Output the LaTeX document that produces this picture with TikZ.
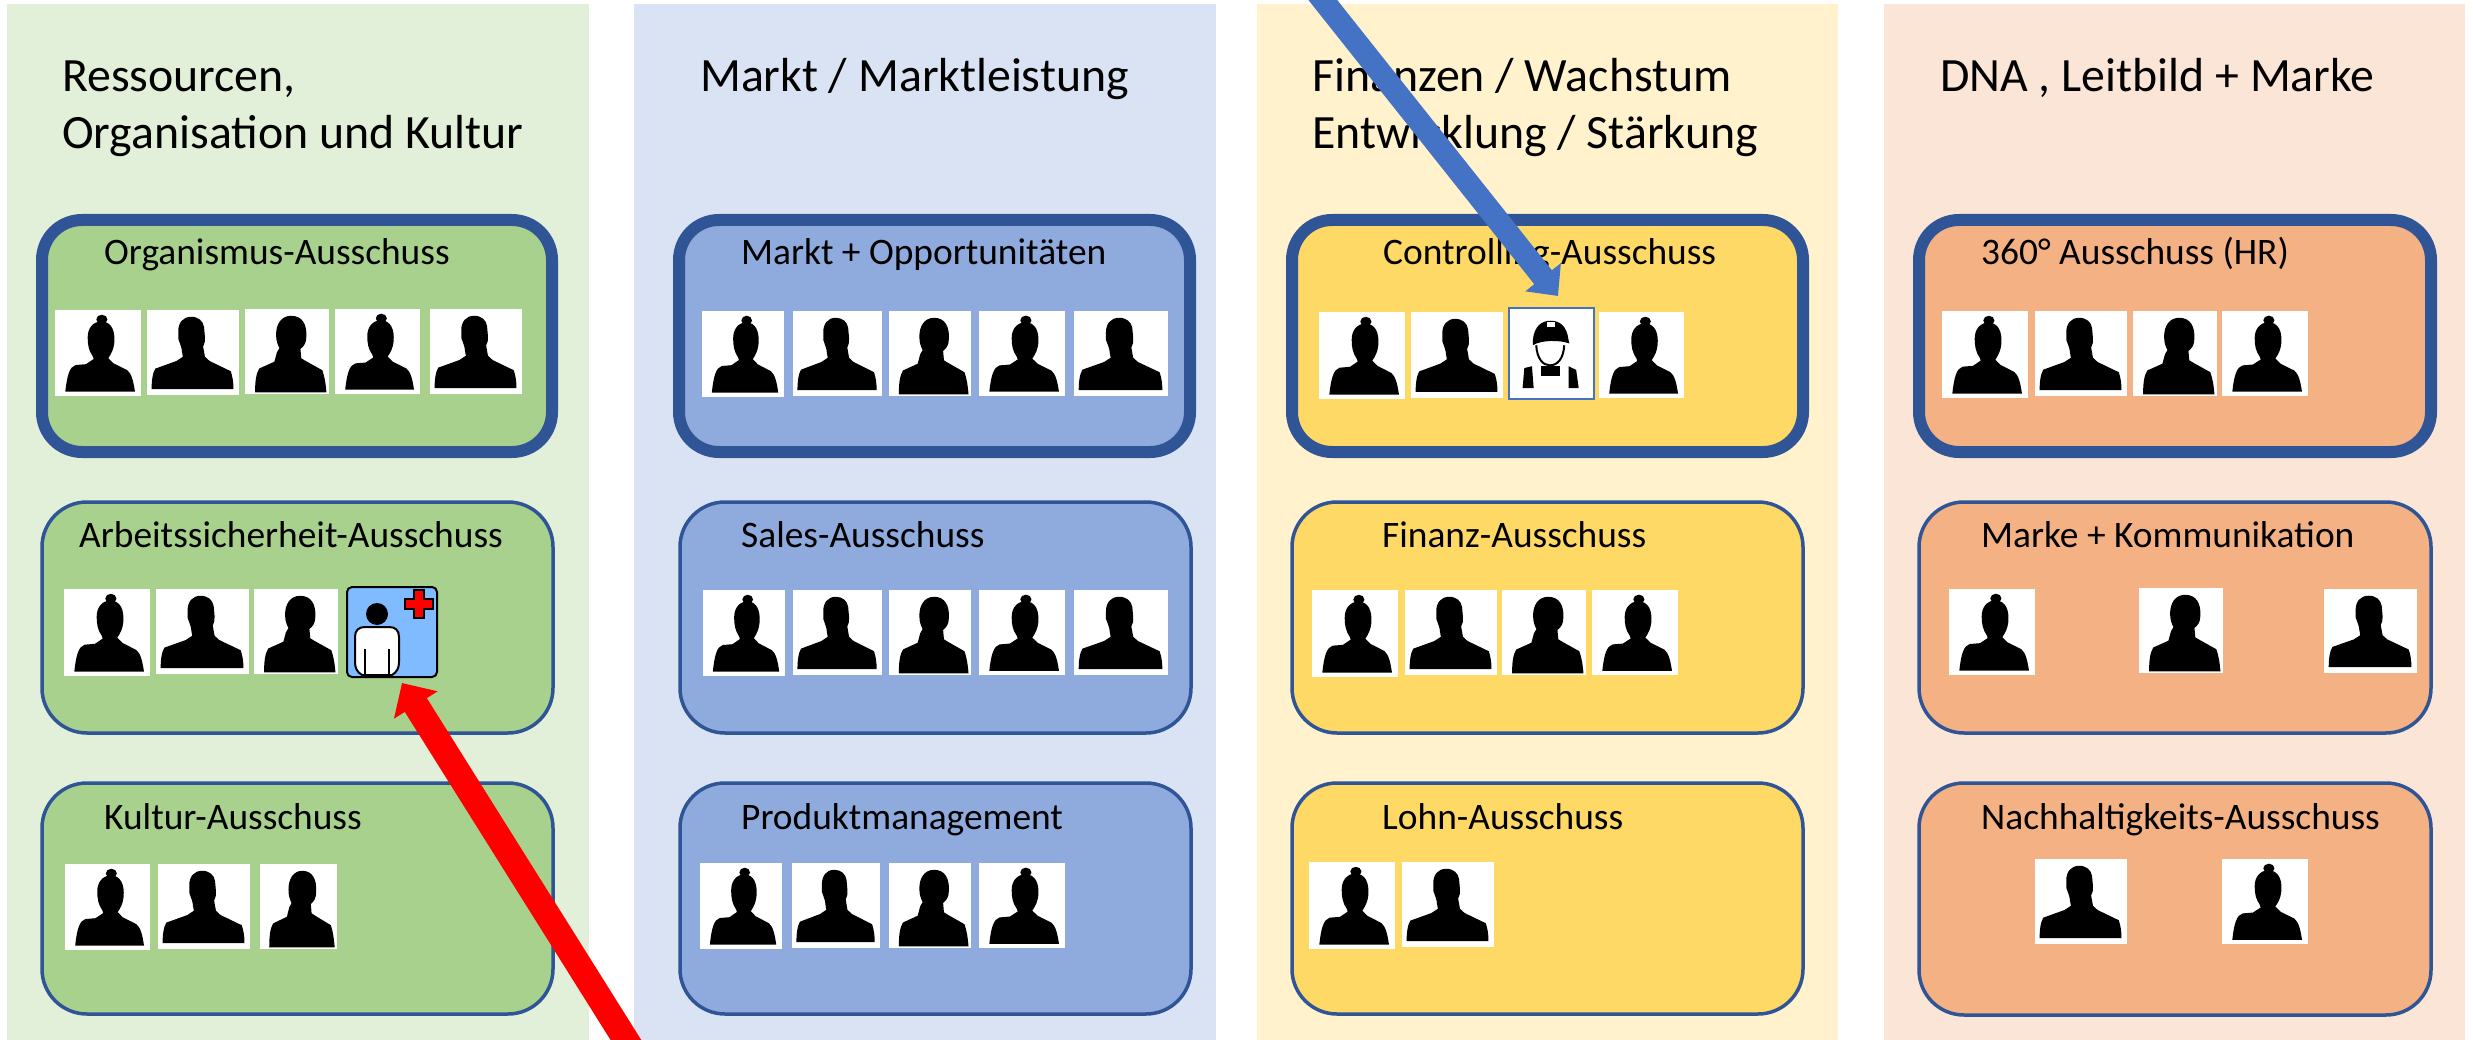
\documentclass[tikz,border=0pt]{standalone}
\usepackage{fontspec}
\setmainfont{Carlito}
\usetikzlibrary{arrows.meta}
\definecolor{pgreen}{HTML}{E2F0D9}\definecolor{pblue}{HTML}{DAE3F3}\definecolor{pyellow}{HTML}{FFF2CC}\definecolor{porange}{HTML}{FBE5D6}
\definecolor{bgreen}{HTML}{A9D18E}\definecolor{bblue}{HTML}{8FAADC}\definecolor{byellow}{HTML}{FFD966}\definecolor{borange}{HTML}{F4B183}
\definecolor{edge}{HTML}{2F5597}\definecolor{arrowblue}{HTML}{4472C4}\definecolor{iconblue}{HTML}{80BBFF}
\tikzset{
 x=1pt,y=-1pt,
 panel/.style={inner sep=0,outer sep=0,anchor=north west},
 box/.style={panel,draw=edge,line width=3.5pt,rounded corners=45pt},
 thickbox/.style={box,line width=12pt,rounded corners=40pt},
 tilebox/.style={panel,fill=white},
 title/.style={anchor=base west,inner sep=0,font=\fontsize{47.8}{56}\selectfont},
 lab/.style={anchor=base west,inner sep=0,font=\fontsize{37.4}{44}\selectfont},
 bluearrow/.style={draw=arrowblue,line width=22.5pt,-{Triangle[length=24pt,width=44pt]}},
 redarrow/.style={draw=red,line width=26pt,-{Triangle[length=26pt,width=50pt]}},
}
% #1 name #2 style #3 x1 #4 y1 #5 x2 #6 y2
\newcommand{\rectnode}[6]{\pgfmathsetmacro{\wA}{#5-#3}\pgfmathsetmacro{\hA}{#6-#4}%
 \node[#2,minimum width=\wA pt,minimum height=\hA pt] (#1) at (#3,#4) {};}
\newcommand{\womanpath}{%
 \fill[black] (54.5,11) ellipse (6.5 and 5.5);
 \fill[black] (54,13) .. controls (43,14) and (38,22) .. (38,32) .. controls (38,40) and (39,47) .. (44,54) -- (45,57)
  -- (36,63) -- (24,64) .. controls (17,66) and (14,76) .. (12,95) -- (93,95)
  .. controls (91,82) and (89,74) .. (84,70) -- (68,62) -- (62,56) .. controls (66,50) and (68,46) .. (69,38)
  .. controls (70,24) and (66,14) .. (54,13) -- cycle;}
\newcommand{\manpath}{%
 \fill[black] (48,8) .. controls (39,8) and (34,15) .. (34,25) -- (34,34) .. controls (36,40) and (38,45) .. (38,49) -- (39,55)
  -- (32,60) -- (9,69) .. controls (6,74) and (5,84) .. (5,93) -- (94,93)
  .. controls (94,85) and (93,78) .. (91,72) -- (68,60) -- (63,55) -- (61,43) .. controls (62,40) and (64,36) .. (63,32)
  -- (62,20) .. controls (61,13) and (56,8) .. (48,8) -- cycle;}
\newcommand{\mantwopath}{%
 \fill[black] (55,8) .. controls (43,8) and (37,18) .. (37,30) .. controls (37,38) and (39,42) .. (41,46) -- (38,51) -- (35,62)
  -- (17,70) .. controls (13,76) and (12,86) .. (12,98) -- (97,98)
  .. controls (96,88) and (95,80) .. (92,72) -- (72,61) -- (67,58) -- (66,47) .. controls (70,44) and (73,40) .. (73,33)
  .. controls (74,18) and (68,8) .. (55,8) -- cycle;}
\newcommand{\workerpath}{%
 \draw[black,line width=2pt] (32,41) .. controls (33,56) and (40,63) .. (48,63) .. controls (57,63) and (64,56) .. (65,41);
 \fill[black] (28,35) .. controls (30,20) and (38,14) .. (49,14) .. controls (60,14) and (68,20) .. (70,35) -- (71,39) .. controls (60,35) and (38,35) .. (28,41) -- cycle;
 \fill[white] (45,15) rectangle (54,21);
 \fill[black] (18,66) -- (27,64) -- (29,88) -- (16,88) -- cycle;
 \fill[black] (70,64) -- (79,68) -- (82,88) -- (70,88) -- cycle;
 \fill[black] (38,64) -- (60,64) -- (60,75) -- (38,75) -- cycle;}
% #1 name #2 silhouette macro #3 x1 #4 y1 #5 x2 #6 y2
\newcommand{\tile}[6]{\rectnode{#1}{tilebox}{#3}{#4}{#5}{#6}%
 \pgfmathsetmacro{\wB}{(#5-#3)/100}\pgfmathsetmacro{\hB}{(#6-#4)/100}%
 \begin{scope}[shift={(#3,#4)},x=\wB pt,y=-\hB pt]#2\end{scope}}
\begin{document}
\begin{tikzpicture}
\useasboundingbox (0,0) rectangle (2473,1040);
\clip (0,0) rectangle (2473,1040);
\fill[white] (0,0) rectangle (2473,1040);
% panels
\rectnode{p1}{panel,fill=pgreen}{7}{4}{589}{1040}
\rectnode{p2}{panel,fill=pblue}{634}{4}{1216}{1040}
\rectnode{p3}{panel,fill=pyellow}{1257}{4}{1838}{1040}
\rectnode{p4}{panel,fill=porange}{1884}{4}{2465}{1040}
% titles
\node[title] (t1a) at (62,92) {Ressourcen,};
\node[title] (t1b) at (62,149) {Organisation und Kultur};
\node[title] (t2a) at (700,92) {Markt / Marktleistung};
\node[title] (t3a) at (1312,92) {Finanzen / Wachstum};
\node[title] (t3b) at (1312,149) {Entwicklung / Stärkung};
\node[title] (t4a) at (1940,92) {DNA , Leitbild + Marke};
% boxes
\rectnode{b11}{thickbox,fill=bgreen}{42}{220}{552}{452}
\rectnode{b12}{box,fill=bgreen}{42}{502}{553}{733}
\rectnode{b13}{box,fill=bgreen}{42}{783}{553}{1014}
\rectnode{b21}{thickbox,fill=bblue}{679}{220}{1190}{452}
\rectnode{b22}{box,fill=bblue}{680}{502}{1191}{733}
\rectnode{b23}{box,fill=bblue}{680}{783}{1191}{1014}
\rectnode{b31}{thickbox,fill=byellow}{1292}{220}{1803}{452}
\rectnode{b32}{box,fill=byellow}{1292}{502}{1803}{733}
\rectnode{b33}{box,fill=byellow}{1292}{783}{1803}{1014}
\rectnode{b41}{thickbox,fill=borange}{1919}{220}{2431}{452}
\rectnode{b42}{box,fill=borange}{1919}{502}{2431}{733}
\rectnode{b43}{box,fill=borange}{1919}{783}{2431}{1015}
% labels
\node[lab] (l11) at (104,265) {Organismus-Ausschuss};
\node[lab] (l12) at (79,547) {Arbeitssicherheit-Ausschuss};
\node[lab] (l13) at (104,829) {Kultur-Ausschuss};
\node[lab] (l21) at (741,265) {Markt + Opportunitäten};
\node[lab] (l22) at (741,547) {Sales-Ausschuss};
\node[lab] (l23) at (741,829) {Produktmanagement};
\node[lab] (l31) at (1383,265) {Controlling-Ausschuss};
\node[lab] (l32) at (1382,547) {Finanz-Ausschuss};
\node[lab] (l33) at (1382,829) {Lohn-Ausschuss};
\node[lab] (l41) at (1981,265) {360° Ausschuss (HR)};
\node[lab] (l42) at (1981,547) {Marke + Kommunikation};
\node[lab] (l43) at (1981,829) {Nachhaltigkeits-Ausschuss};
% column 1
\tile{a1}{\womanpath}{55}{310}{141}{396}
\tile{a2}{\manpath}{147}{310}{239}{395}
\tile{a3}{\mantwopath}{245}{309}{329}{394}
\tile{a4}{\womanpath}{335}{309}{420}{394}
\tile{a5}{\manpath}{430}{309}{522}{394}
\tile{c1}{\womanpath}{64}{589}{150}{676}
\tile{c2}{\manpath}{156}{589}{249}{674}
\tile{c3}{\mantwopath}{254}{589}{338}{674}
\tile{d1}{\womanpath}{65}{864}{150}{950}
\tile{d2}{\manpath}{158}{864}{250}{949}
\tile{d3}{\mantwopath}{260}{864}{337}{949}
% first-aid icon
\rectnode{icon}{panel,fill=iconblue,draw=black,line width=2pt,rounded corners=5pt}{347}{587}{437}{677}
\node[circle,fill=black,inner sep=0,minimum size=22pt] (iconhead) at (377,614) {};
\draw[black,fill=white,line width=2pt] (362,675) .. controls (357,672) and (355,668) .. (355,662) -- (355,637) .. controls (355,630) and (359,627) .. (365,627) -- (389,627) .. controls (395,627) and (399,630) .. (399,637) -- (399,662) .. controls (399,668) and (397,672) .. (392,675) -- cycle;
\draw[black,line width=2pt] (365,649) -- (365,675) (389,649) -- (389,675);
\draw[black,fill=red,line width=1.5pt] (414,590) -- (424,590) -- (424,599) -- (433,599) -- (433,609) -- (424,609) -- (424,618) -- (414,618) -- (414,609) -- (405,609) -- (405,599) -- (414,599) -- cycle;
% column 2
\tile{e1}{\womanpath}{702}{311}{784}{397}
\tile{e2}{\manpath}{793}{311}{882}{396}
\tile{e3}{\mantwopath}{889}{311}{971}{396}
\tile{e4}{\womanpath}{979}{311}{1065}{396}
\tile{e5}{\manpath}{1074}{311}{1168}{396}
\tile{f1}{\womanpath}{703}{590}{785}{676}
\tile{f2}{\manpath}{793}{590}{882}{675}
\tile{f3}{\mantwopath}{889}{590}{971}{675}
\tile{f4}{\womanpath}{979}{590}{1065}{675}
\tile{f5}{\manpath}{1074}{590}{1168}{675}
\tile{g1}{\womanpath}{700}{863}{782}{949}
\tile{g2}{\manpath}{792}{863}{880}{948}
\tile{g3}{\mantwopath}{889}{863}{971}{948}
\tile{g4}{\womanpath}{979}{863}{1065}{948}
% column 3
\tile{h1}{\womanpath}{1319}{312}{1405}{399}
\tile{h2}{\manpath}{1411}{312}{1503}{398}
\rectnode{worker}{panel,fill=white,draw=arrowblue,line width=2.5pt}{1509}{308}{1594}{399}
\begin{scope}[shift={(1509,308)},x=0.85pt,y=-0.91pt]\workerpath\end{scope}
\tile{h4}{\womanpath}{1599}{312}{1684}{398}
\tile{i1}{\womanpath}{1312}{590}{1398}{677}
\tile{i2}{\manpath}{1405}{590}{1497}{675}
\tile{i3}{\mantwopath}{1502}{590}{1586}{675}
\tile{i4}{\womanpath}{1592}{590}{1678}{675}
\tile{j1}{\womanpath}{1309}{862}{1395}{949}
\tile{j2}{\manpath}{1402}{862}{1494}{947}
% column 4
\tile{k1}{\womanpath}{1942}{311}{2028}{398}
\tile{k2}{\manpath}{2035}{311}{2127}{396}
\tile{k3}{\mantwopath}{2133}{311}{2217}{396}
\tile{k4}{\womanpath}{2222}{311}{2308}{396}
\tile{m1}{\womanpath}{1949}{589}{2035}{675}
\tile{m2}{\mantwopath}{2139}{588}{2223}{673}
\tile{m3}{\manpath}{2324}{589}{2417}{673}
\tile{n1}{\manpath}{2035}{859}{2127}{944}
\tile{n2}{\womanpath}{2222}{859}{2308}{944}
% arrows
\coordinate (bluefree) at (1291,-40);
\coordinate (bluetip) at (1558,296);
\coordinate (redfree) at (651,1080);
\coordinate (redtip) at (402,683);
\draw[bluearrow] (bluefree) -- (bluetip);
\draw[redarrow] (redfree) -- (redtip);
\end{tikzpicture}
\end{document}
